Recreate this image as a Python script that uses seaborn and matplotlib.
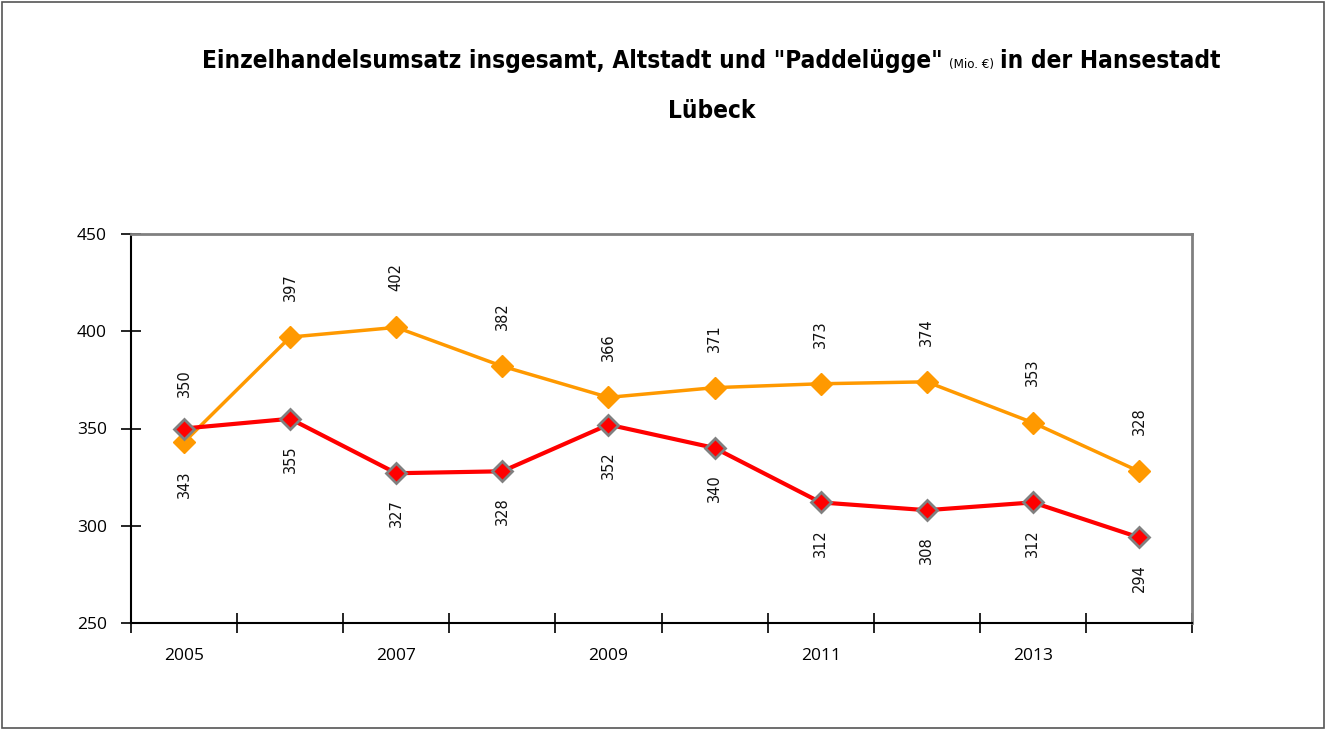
import matplotlib
matplotlib.use("Agg")
import matplotlib.pyplot as plt
from matplotlib.patches import Rectangle
import seaborn as sns
import pandas as pd

# Werte
JAHRE = [2005, 2006, 2007, 2008, 2009, 2010, 2011, 2012, 2013, 2014]
UMSATZ_ORANGE = [343, 397, 402, 382, 366, 371, 373, 374, 353, 328]
UMSATZ_ROT = [350, 355, 327, 328, 352, 340, 312, 308, 312, 294]
Y_TICKS = [250, 300, 350, 400, 450]
X_LABEL_JAHRE = [2005, 2007, 2009, 2011, 2013]

TITEL_A = 'Einzelhandelsumsatz insgesamt, Altstadt und "Paddelügge"'
TITEL_EINHEIT = "(Mio. €)"
TITEL_B = "in der Hansestadt"
TITEL_2 = "Lübeck"

ORANGE = "#FF9900"
ROT = "#FF0000"
GRAU = "#808080"

sns.set_theme(style="white")
plt.rcParams["font.family"] = ["DejaVu Sans"]
plt.rcParams["text.color"] = "black"

df = pd.DataFrame({"pos": range(len(JAHRE)), "jahr": JAHRE,
                   "orange": UMSATZ_ORANGE, "rot": UMSATZ_ROT})

W, H = 1326, 729
fig = plt.figure(figsize=(W / 100, H / 100), dpi=100)
ax = fig.add_axes([131 / W, 1 - 623 / H, (1192 - 131) / W, (623 - 234) / H])

sns.lineplot(data=df, x="pos", y="orange", ax=ax, color=ORANGE, lw=2.5,
             marker="D", markersize=11, markeredgecolor=ORANGE, markeredgewidth=1)
sns.lineplot(data=df, x="pos", y="rot", ax=ax, color=ROT, lw=3,
             marker="D", markersize=10, markeredgecolor=GRAU, markeredgewidth=2)

# Datenbeschriftungen (gedreht), wer oben steht haengt vom Abstand ab
for i, (o, r) in enumerate(zip(UMSATZ_ORANGE, UMSATZ_ROT)):
    o_oben = o >= r
    ax.annotate(str(o), (i, o), xytext=(0, 36 if o_oben else -30), textcoords="offset points",
                rotation=90, ha="center", va="center", fontsize=10.5, color="#111111")
    ax.annotate(str(r), (i, r), xytext=(0, -29 if o_oben else 33), textcoords="offset points",
                rotation=90, ha="center", va="center", fontsize=10.5, color="#111111")

ax.set_xlim(-0.5, len(JAHRE) - 0.5)
ax.set_ylim(250, 450)
ax.set_yticks(Y_TICKS)
ax.set_yticklabels([str(v) for v in Y_TICKS], fontsize=12.5, fontfamily="Open Sans", color="black")
ax.set_xticks([i - 0.5 for i in range(len(JAHRE) + 1)])
ax.set_xticklabels([])
ax.set_xticks([JAHRE.index(j) for j in X_LABEL_JAHRE], minor=True)
ax.set_xticklabels([str(j) for j in X_LABEL_JAHRE], minor=True, fontsize=12.5,
                   fontfamily="Open Sans", color="black")
ax.tick_params(axis="x", which="major", bottom=True, direction="inout", length=15, width=1.2,
               color="black")
ax.tick_params(axis="x", which="minor", bottom=True, length=0, pad=18)
ax.tick_params(axis="y", left=True, direction="inout", length=15, width=1.2, color="black", pad=10)
ax.set_xlabel("")
ax.set_ylabel("")
ax.grid(False)

for s in ["left", "bottom"]:
    ax.spines[s].set_color("black")
    ax.spines[s].set_linewidth(1.5)
for s in ["top", "right"]:
    ax.spines[s].set_color(GRAU)
    ax.spines[s].set_linewidth(2)

# Titel aus drei Teilen zusammensetzen
fig.canvas.draw()
rend = fig.canvas.get_renderer()
teile = [(TITEL_A, "bold", 17.5), (TITEL_EINHEIT, "normal", 9.5), (TITEL_B, "bold", 17.5)]
objs = [fig.text(0, 1 - 68 / H, s, fontsize=fs, fontweight=w, va="baseline",
                 fontstretch="condensed") for s, w, fs in teile]
gap = 6
breiten = [t.get_window_extent(rend).width for t in objs]
gesamt = sum(breiten) + gap * (len(breiten) - 1)
x = 711 - gesamt / 2
for t, b in zip(objs, breiten):
    t.set_x(x / W)
    x += b + gap
fig.text(712 / W, 1 - 118 / H, TITEL_2, fontsize=17.5, fontweight="bold", ha="center",
         va="baseline", fontstretch="condensed")

fig.patches.append(Rectangle((2 / W, 1 / H), (W - 4) / W, (H - 3) / H, transform=fig.transFigure,
                             fill=False, edgecolor="#555555", lw=1.2))

fig.savefig("out.png", dpi=100)
